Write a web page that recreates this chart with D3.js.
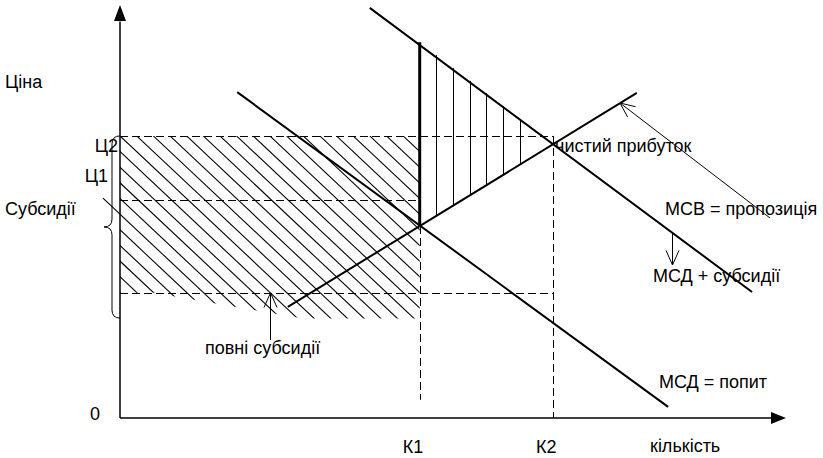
<!DOCTYPE html>
<html><head><meta charset="utf-8">
<script src="https://cdn.jsdelivr.net/npm/d3@7"></script>
<style>
html,body{margin:0;padding:0;background:#fff;}
text{font-family:"Liberation Sans",Arial,sans-serif;font-size:18px;fill:#000;}
</style></head>
<body><svg id="c" width="823" height="458"></svg>
<script>
// ---- data (chart units: quantity 0..100, price 0..100) ----
const quantityLabels = ["К1", "К2"];
const quantityValues = [45, 65];
const priceLabels = ["Ц2", "Ц1"];
const priceValues = [68.3, 52.8];
const subsidyLow = 30.3;           // lower bound of full subsidy
const eq1 = [45, 46.5];            // MSB ∩ MSD at K1
const eq2 = [65, 66.3];            // MSB ∩ (MSD+subsidy) at K2
const demandLine = [[17.6, 78.9], [82.3, 2.7]];          // МСД = попит
const demandSubsidyLine = [[37.5, 99.3], [94.9, 30.5]];  // МСД + субсидії
const supplyLine = [[25.2, 26.9], [77.6, 78.7]];         // МСВ = пропозиція
const thickTop = 91.0;
const braceRange = [24.2, 68.3];
const fullSubsidyBottom = [[0, 30.3], [5, 30.3], [27.5, 24.1], [45, 24.1]];
const profitHatchQ = [47.5, 50, 52.5, 55, 57.5, 60];

const W = 823, H = 458;
const svg = d3.select("#c");
const x = d3.scaleLinear().domain([0, 100]).range([120, 786]);
const y = d3.scaleLinear().domain([0, 100]).range([418, 5]);
const line = d3.line().x(d => x(d[0])).y(d => y(d[1]));
const px = v => Math.round(v) + 0.5;

// ---- clips ----
const defs = svg.append("defs");
const hatchPoly = [[0, priceValues[0]], [quantityValues[0], priceValues[0]], ...fullSubsidyBottom.slice().reverse()];
defs.append("clipPath").attr("id", "hclip").append("path").attr("d", line(hatchPoly) + "Z");
const triPoly = [[quantityValues[0], thickTop], eq2, eq1];
defs.append("clipPath").attr("id", "tclip").append("path").attr("d", line(triPoly) + "Z");

// diagonal hatch lines (full subsidies)
const hg = svg.append("g").attr("clip-path", "url(#hclip)");
const sp = x(2.5) - x(0), slope = 0.94;
const x0 = x(0), yTop = y(priceValues[0]);
for (let k = -30; k <= 30; k++) {
  const xs = x0 + k * sp;
  hg.append("line").attr("x1", xs).attr("y1", yTop).attr("x2", xs + 400).attr("y2", yTop + 400 * slope)
    .attr("stroke", "#000").attr("stroke-width", 1.1);
}
// stray hatch stroke extending left of the axis
svg.append("line").attr("x1", x0 - 17).attr("y1", yTop + 5 * sp * slope - 17 * slope)
  .attr("x2", x0).attr("y2", yTop + 5 * sp * slope).attr("stroke", "#000").attr("stroke-width", 1.1);

// vertical hatch in triangle (net profit)
const tg = svg.append("g").attr("clip-path", "url(#tclip)");
profitHatchQ.forEach(q => {
  tg.append("line").attr("x1", px(x(q))).attr("x2", px(x(q))).attr("y1", 0).attr("y2", H)
    .attr("stroke", "#000").attr("stroke-width", 1);
});

// ---- dashed guides ----
const dash = "8,4";
function hd(v, q0, q1) { svg.append("line").attr("x1", x(q0)).attr("x2", x(q1)).attr("y1", px(y(v))).attr("y2", px(y(v))).attr("stroke", "#000").attr("stroke-width", 1).attr("stroke-dasharray", dash); }
function vd(q, v0, v1) { svg.append("line").attr("x1", px(x(q))).attr("x2", px(x(q))).attr("y1", y(v0)).attr("y2", y(v1)).attr("stroke", "#000").attr("stroke-width", 1).attr("stroke-dasharray", dash); }
hd(priceValues[0], 0, quantityValues[1]);
hd(priceValues[1], 0, quantityValues[0]);
hd(subsidyLow, 0, quantityValues[1]);
vd(quantityValues[0], eq1[1], 4.4);
vd(quantityValues[1], priceValues[0], 0);

// ---- axes ----
svg.append("line").attr("x1", x(0)).attr("y1", y(0)).attr("x2", x(0)).attr("y2", y(96)).attr("stroke", "#000").attr("stroke-width", 1.5);
svg.append("line").attr("x1", x(0)).attr("y1", y(0)).attr("x2", x(98)).attr("y2", y(0)).attr("stroke", "#000").attr("stroke-width", 1.5);
svg.append("path").attr("d", `M${x(0)},${y(100)} L${x(0) - 6},${y(100) + 16} L${x(0) + 6},${y(100) + 16} Z`).attr("fill", "#000");
svg.append("path").attr("d", `M${x(100)},${y(0)} L${x(100) - 15},${y(0) - 6} L${x(100) - 15},${y(0) + 6} Z`).attr("fill", "#000");

// ---- curves ----
[demandLine, demandSubsidyLine, supplyLine].forEach(p =>
  svg.append("path").attr("d", line(p)).attr("fill", "none").attr("stroke", "#000").attr("stroke-width", 2));
svg.append("path").attr("d", line([[quantityValues[0], eq1[1]], [quantityValues[0], thickTop]]))
  .attr("stroke", "#000").attr("stroke-width", 3);

// ---- brace ----
{
  const bx = x(0) - 8, tip = x(0) - 16, t = y(braceRange[1]), b = y(braceRange[0]), m = (t + b) / 2;
  const p = d3.path();
  p.moveTo(x(0), t); p.quadraticCurveTo(bx, t, bx, t + 8);
  p.lineTo(bx, m - 8); p.quadraticCurveTo(bx, m, tip, m);
  p.quadraticCurveTo(bx, m, bx, m + 8);
  p.lineTo(bx, b - 8); p.quadraticCurveTo(bx, b, x(0), b);
  svg.append("path").attr("d", p.toString()).attr("fill", "none").attr("stroke", "#000").attr("stroke-width", 1);
}

// ---- open arrows ----
function arrow(x1, y1, x2, y2) {
  svg.append("line").attr("x1", x1).attr("y1", y1).attr("x2", x2).attr("y2", y2).attr("stroke", "#000").attr("stroke-width", 1);
  const a = Math.atan2(y2 - y1, x2 - x1), L = 16, s = 0.42;
  const w = d3.path();
  w.moveTo(x2 - L * Math.cos(a - s), y2 - L * Math.sin(a - s));
  w.lineTo(x2, y2);
  w.lineTo(x2 - L * Math.cos(a + s), y2 - L * Math.sin(a + s));
  svg.append("path").attr("d", w.toString()).attr("fill", "none").attr("stroke", "#000").attr("stroke-width", 1);
}
arrow(270.5, 340, 270.5, y(subsidyLow));
arrow(770, 218, 620, 103);
arrow(672.5, 232, 672.5, 265);

// ---- labels ----
function t(s, tx, ty, anchor) { svg.append("text").attr("x", tx).attr("y", ty).attr("text-anchor", anchor || "start").text(s); }
t("Ціна", 5, 88);
t(priceLabels[0], 118, y(priceValues[0]) + 16, "end");
t(priceLabels[1], 108, y(priceValues[1]) - 18, "end");
t("Субсидії", 5, 215);
t("0", 90, 420);
quantityLabels.forEach((l, i) => t(l, x(quantityValues[i]) - 17, 453));
t("кількість", 650, 452);
t("МСД = попит", 659, 388);
t("чистий прибуток", 555, 152);
t("МСВ = пропозиція", 665, 215);
t("МСД + субсидії", 653, 282);
t("повні субсидії", 205, 354);
</script></body></html>
